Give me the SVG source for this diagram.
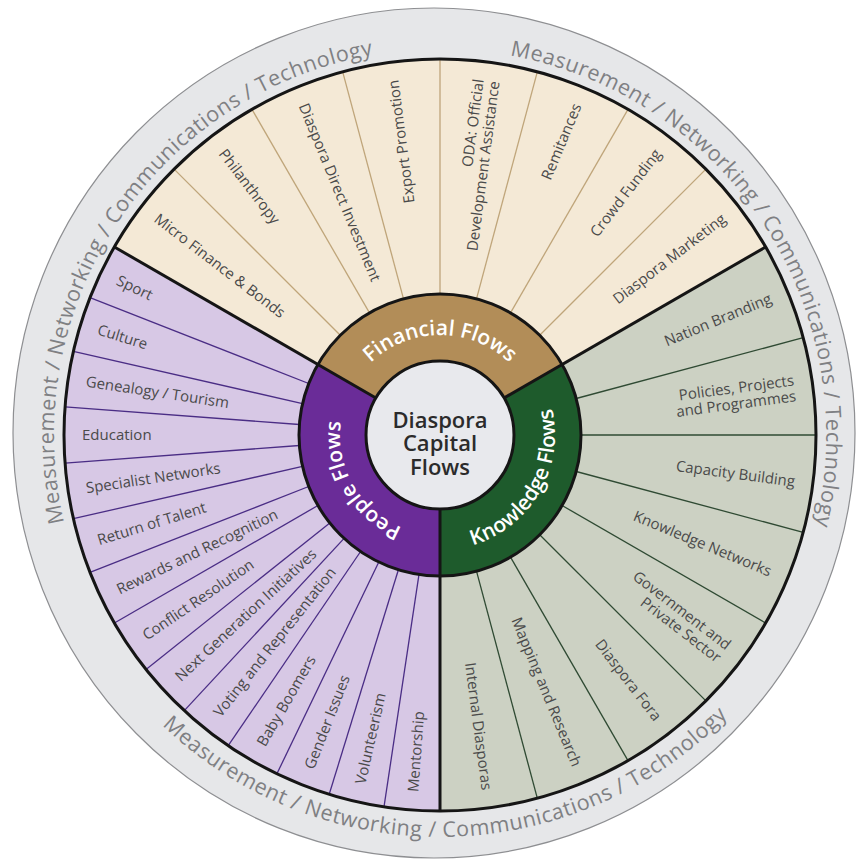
<svg xmlns="http://www.w3.org/2000/svg" width="857" height="861" viewBox="0 0 857 861">
<style>
.lbl{font-family:"Open Sans","Liberation Sans",sans-serif;font-size:15px;fill:#4a4a4a}
.ring{font-family:"Open Sans","Liberation Sans",sans-serif;font-size:21.5px;font-weight:500;fill:#7f8083;letter-spacing:0.55px}
.flow{font-family:"Open Sans","Liberation Sans",sans-serif;font-size:21px;font-weight:600;fill:#ffffff}
.ctr{font-family:"Open Sans","Liberation Sans",sans-serif;font-size:22px;font-weight:600;fill:#2b2b2b}
.fdiv{stroke:#bfa57a;stroke-width:1.3}
.kdiv{stroke:#2f4a33;stroke-width:1.3}
.pdiv{stroke:#4a2d85;stroke-width:1.3}
.bnd{stroke:#151515;stroke-width:3;fill:none}
</style>
<defs>
<path id="arcTL" d="M199.7,737.1 A386,386 0 0 1 624.2,95.8"/>
<path id="arcTR" d="M258.8,94.2 A386,386 0 0 1 677.7,739.2"/>
<path id="arcB" d="M40.2,477 A402,402 0 0 0 841,463.1"/>
<path id="arcFin" d="M353.4,385 A100,100 0 0 1 526.6,385"/>
<path id="arcPeo" d="M440,535 A100,100 0 0 1 353.4,385"/>
<path id="arcKno" d="M440,550 A115,115 0 0 0 539.6,377.5"/>
</defs>
<rect width="857" height="861" fill="#ffffff"/>
<g id="outer-ring">
<ellipse cx="434" cy="433" rx="421" ry="425" fill="#e6e7e9" stroke="#8e8f92" stroke-width="1.2"/>
<text class="ring"><textPath href="#arcTL" startOffset="50%" text-anchor="middle">Measurement / Networking / Communications / Technology</textPath></text>
<text class="ring"><textPath href="#arcTR" startOffset="50%" text-anchor="middle">Measurement / Networking / Communications / Technology</textPath></text>
<text class="ring"><textPath href="#arcB" startOffset="50%" text-anchor="middle">Measurement / Networking / Communications / Technology</textPath></text>
</g>
<g id="sectors">
<path id="financial-sector" d="M440,435 L114.4,247 A376,376 0 0 1 765.6,247 Z" fill="#f4e9d6"/>
<path id="knowledge-sector" d="M440,435 L765.6,247 A376,376 0 0 1 440,811 Z" fill="#ccd1c3"/>
<path id="people-sector" d="M440,435 L440,811 A376,376 0 0 1 114.4,247 Z" fill="#d7c8e5"/>
</g>
<g id="connectors">
<g class="fdiv">
<line x1="340.3" y1="335.3" x2="174.1" y2="169.1"/>
<line x1="369.5" y1="312.9" x2="252" y2="109.4"/>
<line x1="403.5" y1="298.8" x2="342.7" y2="71.8"/>
<line x1="440" y1="294" x2="440" y2="59"/>
<line x1="476.5" y1="298.8" x2="537.3" y2="71.8"/>
<line x1="510.5" y1="312.9" x2="628" y2="109.4"/>
<line x1="539.7" y1="335.3" x2="705.9" y2="169.1"/>
</g>
<g class="kdiv">
<line x1="576.2" y1="398.5" x2="803.2" y2="337.7"/>
<line x1="581" y1="435" x2="816" y2="435"/>
<line x1="576.2" y1="471.5" x2="803.2" y2="532.3"/>
<line x1="562.1" y1="505.5" x2="765.6" y2="623"/>
<line x1="539.7" y1="534.7" x2="705.9" y2="700.9"/>
<line x1="510.5" y1="557.1" x2="628" y2="760.6"/>
<line x1="476.5" y1="571.2" x2="537.3" y2="798.2"/>
</g>
<g class="pdiv">
<line x1="419" y1="574.4" x2="384" y2="806.8"/>
<line x1="398.4" y1="569.7" x2="329.2" y2="794.3"/>
<line x1="378.8" y1="562" x2="276.9" y2="773.8"/>
<line x1="360.6" y1="551.5" x2="228.2" y2="745.7"/>
<line x1="344.1" y1="538.4" x2="184.3" y2="710.6"/>
<line x1="329.8" y1="522.9" x2="146" y2="669.4"/>
<line x1="317.9" y1="505.5" x2="114.4" y2="623"/>
<line x1="308.7" y1="486.5" x2="90" y2="572.4"/>
<line x1="302.5" y1="466.4" x2="73.4" y2="518.7"/>
<line x1="299.4" y1="445.5" x2="65.1" y2="463.1"/>
<line x1="299.4" y1="424.5" x2="65.1" y2="406.9"/>
<line x1="302.5" y1="403.6" x2="73.4" y2="351.3"/>
<line x1="308.7" y1="383.5" x2="90" y2="297.6"/>
</g>
<circle class="bnd" cx="440" cy="435" r="376"/>
<line class="bnd" x1="440" y1="435" x2="114.4" y2="247"/>
<line class="bnd" x1="440" y1="435" x2="765.6" y2="247"/>
<line class="bnd" x1="440" y1="435" x2="440" y2="811"/>
</g>
<g id="financial-labels" class="lbl">
<text transform="translate(156,217) rotate(37.5)" dy="5">Micro Finance &amp; Bonds</text>
<text transform="translate(222,151) rotate(52.5)" dy="5">Philanthropy</text>
<text transform="translate(303,104.2) rotate(67.5)" dy="5">Diaspora Direct Investment</text>
<text transform="translate(393.3,80.1) rotate(-97.5)" dy="5" text-anchor="end">Export Promotion</text>
<text transform="translate(486.7,80.1) rotate(-82.5)" text-anchor="end"><tspan x="0" dy="-3">ODA: Official</tspan><tspan x="0" dy="16">Development Assistance</tspan></text>
<text transform="translate(577,104.2) rotate(-67.5)" dy="5" text-anchor="end">Remitances</text>
<text transform="translate(658,151) rotate(-52.5)" dy="5" text-anchor="end">Crowd Funding</text>
<text transform="translate(724,217) rotate(-37.5)" dy="5" text-anchor="end">Diaspora Marketing</text>
</g>
<g id="knowledge-labels" class="lbl">
<text transform="translate(770.8,298) rotate(-22.5)" dy="5" text-anchor="end">Nation Branding</text>
<text transform="translate(794.9,388.3) rotate(-7.5)" text-anchor="end"><tspan x="0" dy="-3">Policies, Projects</tspan><tspan x="0" dy="16">and Programmes</tspan></text>
<text transform="translate(794.9,481.7) rotate(7.5)" dy="5" text-anchor="end">Capacity Building</text>
<text transform="translate(770.8,572) rotate(22.5)" dy="5" text-anchor="end">Knowledge Networks</text>
<text transform="translate(724,653) rotate(37.5)" text-anchor="end"><tspan x="0" dy="-3">Government and</tspan><tspan x="0" dy="16">Private Sector</tspan></text>
<text transform="translate(658,719) rotate(52.5)" dy="5" text-anchor="end">Diaspora Fora</text>
<text transform="translate(577,765.8) rotate(67.5)" dy="5" text-anchor="end">Mapping and Research</text>
<text transform="translate(486.7,789.9) rotate(82.5)" dy="5" text-anchor="end">Internal Diasporas</text>
</g>
<g id="people-labels" class="lbl">
<text transform="translate(413.2,792) rotate(-85.714)" dy="5">Mentorship</text>
<text transform="translate(360.3,784) rotate(-77.143)" dy="5">Volunteerism</text>
<text transform="translate(309.2,768.3) rotate(-68.571)" dy="5">Gender Issues</text>
<text transform="translate(261,745) rotate(-60)" dy="5">Baby Boomers</text>
<text transform="translate(216.8,714.9) rotate(-51.429)" dy="5">Voting and Representation</text>
<text transform="translate(177.6,678.5) rotate(-42.857)" dy="5">Next Generation Initiatives</text>
<text transform="translate(144.2,636.7) rotate(-34.286)" dy="5">Conflict Resolution</text>
<text transform="translate(117.5,590.3) rotate(-25.714)" dy="5">Rewards and Recognition</text>
<text transform="translate(97.9,540.5) rotate(-17.143)" dy="5">Return of Talent</text>
<text transform="translate(86,488.4) rotate(-8.571)" dy="5">Specialist Networks</text>
<text transform="translate(82,435)" dy="5">Education</text>
<text transform="translate(86,381.6) rotate(8.571)" dy="5">Genealogy / Tourism</text>
<text transform="translate(97.9,329.5) rotate(17.143)" dy="5">Culture</text>
<text transform="translate(117.5,279.7) rotate(25.714)" dy="5">Sport</text>
</g>
<g id="financial-flows">
<path d="M440,435 L317.9,364.5 A141,141 0 0 1 562.1,364.5 Z" fill="#b28d58"/>
</g>
<g id="knowledge-flows">
<path d="M440,435 L562.1,364.5 A141,141 0 0 1 440,576 Z" fill="#1e5b2c"/>
</g>
<g id="people-flows">
<path d="M440,435 L440,576 A141,141 0 0 1 317.9,364.5 Z" fill="#6a2c98"/>
</g>
<g id="ring-outline">
<circle class="bnd" cx="440" cy="435" r="141"/>
<line class="bnd" x1="440" y1="435" x2="317.9" y2="364.5"/>
<line class="bnd" x1="440" y1="435" x2="562.1" y2="364.5"/>
<line class="bnd" x1="440" y1="435" x2="440" y2="576"/>
</g>
<g id="flow-labels">
<text class="flow"><textPath href="#arcFin" startOffset="50%" text-anchor="middle">Financial Flows</textPath></text>
<text class="flow"><textPath href="#arcPeo" startOffset="50%" text-anchor="middle">People Flows</textPath></text>
<text class="flow"><textPath href="#arcKno" startOffset="50%" text-anchor="middle">Knowledge Flows</textPath></text>
</g>
<g id="center">
<circle cx="440" cy="435" r="74" fill="#e8e9ed" stroke="#151515" stroke-width="3"/>
<text class="ctr" x="440" y="428" text-anchor="middle">Diaspora</text>
<text class="ctr" x="440" y="451" text-anchor="middle">Capital</text>
<text class="ctr" x="440" y="475" text-anchor="middle">Flows</text>
</g>
</svg>
